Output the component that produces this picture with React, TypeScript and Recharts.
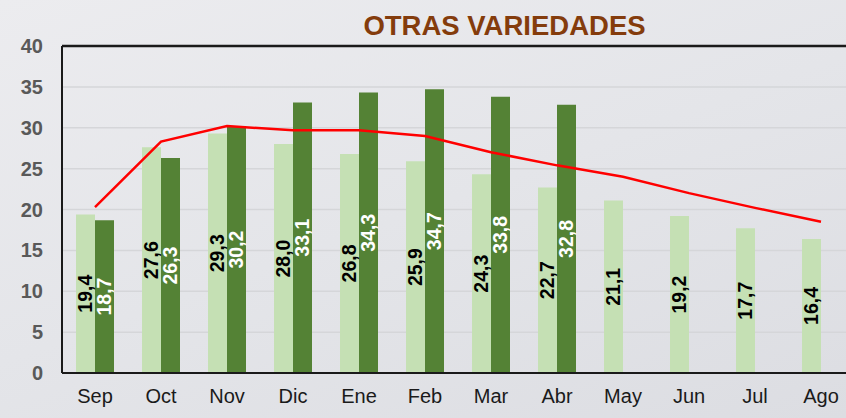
import React from 'react';
import { ComposedChart, Bar, Line, XAxis, YAxis, CartesianGrid, ReferenceLine, LabelList } from 'recharts';

const months = ['Sep', 'Oct', 'Nov', 'Dic', 'Ene', 'Feb', 'Mar', 'Abr', 'May', 'Jun', 'Jul', 'Ago'];
const lightValues = [19.4, 27.6, 29.3, 28.0, 26.8, 25.9, 24.3, 22.7, 21.1, 19.2, 17.7, 16.4];
const darkValues: (number | null)[] = [18.7, 26.3, 30.2, 33.1, 34.3, 34.7, 33.8, 32.8, null, null, null, null];
const lineValues = [20.3, 28.3, 30.2, 29.7, 29.7, 29.0, 27.0, 25.4, 24.0, 22.0, 20.2, 18.5];
const yTicks = [0, 5, 10, 15, 20, 25, 30, 35, 40];
const title = 'OTRAS VARIEDADES';

const data = months.map((m, i) => ({
  month: m,
  light: lightValues[i],
  dark: darkValues[i],
  line: lineValues[i],
}));

const FONT = '"Liberation Sans", Arial, sans-serif';

const makeLabel = (color: string) => (props: any) => {
  const { x, y, width, height, value } = props;
  if (value === null || value === undefined) return null;
  const cx = Number(x) + Number(width) / 2;
  const cy = Number(y) + Number(height) / 2;
  const txt = Number(value).toFixed(1).replace('.', ',');
  return (
    <text
      x={cx}
      y={cy}
      transform={`rotate(-90 ${cx} ${cy})`}
      textAnchor="middle"
      dominantBaseline="central"
      fill={color}
      fontSize={19.5}
      fontWeight="bold"
      fontFamily={FONT}
    >
      {txt}
    </text>
  );
};

export default function App() {
  return (
    <div
      style={{
        position: 'absolute',
        left: 0,
        top: 0,
        width: 846,
        height: 418,
        overflow: 'hidden',
        background: 'linear-gradient(160deg, #ececef 0%, #e4e5e9 50%, #dcdde2 100%)',
        fontFamily: FONT,
      }}
    >
      <div
        style={{
          position: 'absolute',
          left: 0,
          width: 1009,
          top: 9,
          textAlign: 'center',
          color: '#843C0C',
          fontWeight: 'bold',
          fontSize: 27.5,
          lineHeight: '34px',
          fontFamily: FONT,
        }}
      >
        {title}
      </div>
      <ComposedChart
        width={860}
        height={418}
        data={data}
        margin={{ top: 46, right: 6, left: 0, bottom: 0 }}
        barGap={0}
        style={{ position: 'absolute', left: 0, top: 0 }}
      >
        <CartesianGrid horizontal vertical={false} stroke="#d5d6d9" strokeWidth={1.5} />
        <XAxis
          dataKey="month"
          height={45}
          tickLine={false}
          tickSize={0}
          tickMargin={16}
          axisLine={{ stroke: '#1a1a1a', strokeWidth: 2 }}
          tick={{ fill: '#1a1a1a', fontSize: 20, fontFamily: FONT }}
          interval={0}
        />
        <YAxis
          width={62}
          domain={[0, 40]}
          ticks={yTicks}
          tickLine={false}
          tickSize={0}
          tickMargin={19}
          axisLine={{ stroke: '#1a1a1a', strokeWidth: 2 }}
          tick={{ fill: '#595959', fontSize: 20, fontWeight: 'bold', fontFamily: FONT }}
          interval={0}
        />
        <ReferenceLine y={40} stroke="#1a1a1a" strokeWidth={2.5} ifOverflow="visible" />
        <Bar dataKey="light" fill="#C5E0B4" barSize={19} isAnimationActive={false}>
          <LabelList dataKey="light" content={makeLabel('#000000')} />
        </Bar>
        <Bar dataKey="dark" fill="#548235" barSize={19} isAnimationActive={false}>
          <LabelList dataKey="dark" content={makeLabel('#ffffff')} />
        </Bar>
        <Line
          type="linear"
          dataKey="line"
          stroke="#FF0000"
          strokeWidth={2.5}
          dot={false}
          activeDot={false}
          isAnimationActive={false}
        />
      </ComposedChart>
    </div>
  );
}
